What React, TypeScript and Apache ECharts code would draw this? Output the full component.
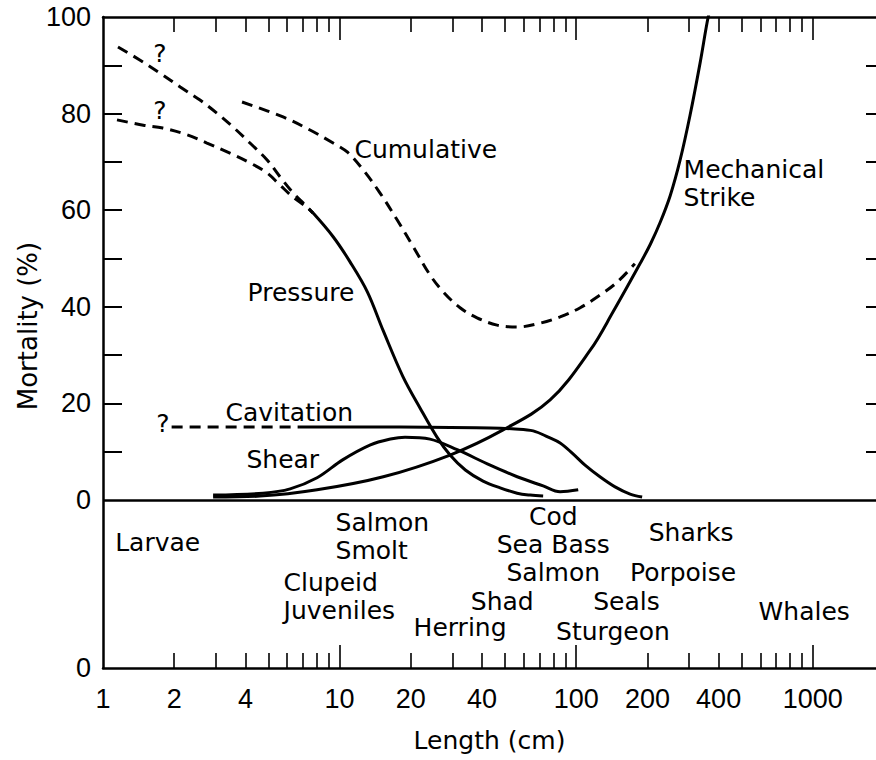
import { useEffect, useRef } from 'react';
import * as echarts from 'echarts';

// ---- axis extents / ticks ----
const X_MIN = 1;
const X_MAX = 1850;
const Y_MIN = -34.8;
const Y_MAX = 100;
const X_LABELS = [1, 2, 4, 10, 20, 40, 100, 200, 400, 1000];
const X_MINOR_TICKS = [2, 3, 4, 5, 6, 7, 8, 9, 20, 30, 40, 50, 60, 70, 80, 90, 200, 300, 400, 500, 600, 700, 800, 900];
const X_MAJOR_TICKS = [10, 100, 1000];
const Y_LABELS = [Y_MIN, 0, 20, 40, 60, 80, 100];
const Y_TICKS = [10, 20, 30, 40, 50, 60, 70, 80, 90];

// ---- curves: length (cm) / mortality (%) ----
const MECH_LEN = [2.92, 4.61, 8.03, 15.3, 29.3, 49.1, 77.6, 115, 143, 187, 206, 227, 250, 275, 303, 334, 358, 369];
const MECH_MORT = [0.6, 0.8, 2.1, 4.8, 9.3, 14.5, 20.7, 31.1, 38.9, 49.1, 53.0, 57.6, 63.1, 70.4, 79.7, 90.5, 99.0, 101.9];

const PRESS_LEN = [7.73, 9.39, 11.07, 13.1, 15.3, 18.5, 21.9, 25.8, 29.3, 34.0, 40.4, 47.7, 56.3, 63.9, 72.5];
const PRESS_MORT = [59.4, 54.5, 49.3, 43.1, 35.0, 25.6, 19.0, 13.0, 9.3, 6.2, 3.9, 2.5, 1.4, 1.0, 0.8];

const UPPER_DASH_LEN = [1.157, 1.43, 1.74, 2.12, 2.57, 3.03, 3.55, 4.18, 4.94, 5.6, 6.36, 7.14, 7.73];
const UPPER_DASH_MORT = [93.8, 91.1, 88.4, 85.5, 82.8, 80.1, 77.2, 73.9, 70.4, 66.9, 63.6, 61.1, 59.4];

const LOWER_DASH_LEN = [1.146, 1.48, 1.79, 2.27, 2.75, 3.44, 4.18, 4.94, 5.6, 6.36, 7.14, 7.73];
const LOWER_DASH_MORT = [78.7, 77.6, 77.0, 75.6, 73.9, 71.8, 69.8, 67.7, 65.2, 62.7, 60.9, 59.4];

const CUM_LEN = [3.87, 5.77, 7.5, 9.39, 10.8, 12.6, 14.8, 17.5, 20.5, 24.1, 27.4, 32.3, 38.1, 46.3, 56.3, 70.4, 85.5, 104, 126, 149, 177];
const CUM_MORT = [82.4, 79.3, 76.6, 73.9, 72.0, 68.3, 63.6, 58.0, 52.4, 46.6, 43.1, 39.8, 37.7, 36.2, 35.8, 36.6, 37.9, 39.8, 42.4, 45.1, 48.9];

const CAV_DASH_LEN = [1.95, 6.8];
const CAV_DASH_MORT = [15.1, 15.1];
const CAV_LEN = [6.8, 18, 43.3, 55.2, 65.8, 76.2, 85.5, 96.2, 109, 126, 146, 169, 190];
const CAV_MORT = [15.1, 15.1, 14.9, 14.7, 14.3, 13.0, 11.8, 9.7, 7.2, 4.8, 2.7, 1.2, 0.6];

const SHEAR_LEN = [2.92, 4.75, 6.18, 8.03, 10.3, 13.5, 16.4, 18.9, 24.1, 31.4, 43.3, 56.3, 72.5, 85.5, 102];
const SHEAR_MORT = [1.0, 1.4, 2.3, 4.6, 8.3, 11.4, 12.6, 13.0, 12.6, 10.4, 7.2, 4.8, 2.9, 1.7, 2.1];

// ---- annotations ----
const NOTE_TEXT = ['?', '?', '?', 'Cumulative', 'Pressure', 'Mechanical\nStrike', 'Cavitation', 'Shear', 'Larvae',
  'Salmon\nSmolt', 'Clupeid\nJuveniles', 'Cod\nSea Bass\nSalmon', 'Shad', 'Herring', 'Seals', 'Sturgeon', 'Sharks', 'Porpoise', 'Whales'];
const NOTE_LEN = [1.74, 1.74, 1.79, 11.5, 11.6, 283, 3.28, 4.02, 1.12, 9.57, 5.77, 80, 48.7, 32.3, 163, 143, 306, 283, 920];
const NOTE_MORT = [92.5, 80.7, 15.9, 72.5, 42.9, 65.6, 18.2, 8.3, -8.9, -7.5, -19.9, -9.3, -21.1, -26.5, -21.1, -27.3, -6.8, -15.1, -23.2];
const NOTE_ANCHOR = ['center', 'center', 'center', 'left', 'right', 'left', 'left', 'left', 'left',
  'left', 'left', 'center', 'center', 'center', 'center', 'center', 'center', 'center', 'center'];

const FONT = 'DejaVu Sans';
const NUM_FONT = 'Liberation Sans';
const INK = '#000';

const zip = (xs: number[], ys: number[]) => xs.map((x, i) => [x, ys[i]]);

function lineSeries(name: string, xs: number[], ys: number[], dashed: boolean, extra: any = {}) {
  return {
    name,
    type: 'line',
    data: zip(xs, ys),
    xAxisIndex: 0,
    yAxisIndex: 0,
    smooth: 0.35,
    showSymbol: false,
    symbol: 'none',
    silent: true,
    clip: true,
    lineStyle: { color: INK, width: 3, type: dashed ? [11, 7] : 'solid', cap: 'butt' },
    ...extra,
  };
}

function xAxisDef(position: 'top' | 'bottom', ticks: number[], len: number, main: boolean) {
  return {
    type: 'log',
    logBase: 10,
    min: X_MIN,
    max: X_MAX,
    position,
    gridIndex: 0,
    axisLine: { show: main, onZero: false, lineStyle: { color: INK, width: 2.5 } },
    axisTick: { show: true, inside: true, length: len, customValues: ticks, lineStyle: { color: INK, width: 1.6 } },
    axisLabel: position === 'bottom' && main
      ? { show: true, customValues: X_LABELS, color: INK, fontSize: 27, fontFamily: NUM_FONT, margin: 17, formatter: (v: number) => String(Math.round(v)) }
      : { show: false },
    splitLine: { show: false },
    minorTick: { show: false },
    ...(position === 'bottom' && main
      ? { name: 'Length (cm)', nameLocation: 'middle', nameGap: 60, nameTextStyle: { color: INK, fontSize: 25, fontFamily: FONT } }
      : {}),
  };
}

export default function App() {
  const ref = useRef<HTMLDivElement>(null);
  useEffect(() => {
    document.body.style.margin = '0';
    const chart = echarts.init(ref.current!, null, { renderer: 'svg' });
    const notes = NOTE_TEXT.map((t, i) => {
      const a = NOTE_ANCHOR[i];
      return {
        value: [NOTE_LEN[i], NOTE_MORT[i]],
        label: {
          show: true,
          formatter: t,
          position: a === 'left' ? 'right' : a === 'right' ? 'left' : 'inside',
          distance: 0,
          align: a === 'left' ? 'left' : a === 'right' ? 'right' : 'center',
          verticalAlign: 'middle',
          color: INK,
          opacity: 1,
          fontSize: 25,
          fontFamily: FONT,
          lineHeight: 28,
          textBorderWidth: 0,
        },
      };
    });
    const option: any = {
      animation: false,
      backgroundColor: '#fff',
      textStyle: { fontFamily: FONT },
      grid: { left: 103, right: 0, top: 17, bottom: 92, containLabel: false },
      xAxis: [
        xAxisDef('bottom', X_MINOR_TICKS, 15, true),
        xAxisDef('bottom', X_MAJOR_TICKS, 23, false),
        xAxisDef('top', X_MINOR_TICKS, 15, true),
        xAxisDef('top', X_MAJOR_TICKS, 23, false),
      ],
      yAxis: [
        {
          type: 'value', min: Y_MIN, max: Y_MAX, position: 'left',
          axisLine: { show: true, onZero: false, lineStyle: { color: INK, width: 2.5 } },
          axisTick: { show: true, inside: true, length: 19, customValues: Y_TICKS, lineStyle: { color: INK, width: 2 } },
          axisLabel: { show: true, customValues: Y_LABELS, color: INK, fontSize: 27, fontFamily: NUM_FONT, margin: 12,
            formatter: (v: number) => (v < 0 ? '0' : String(Math.round(v))) },
          splitLine: { show: false },
        },
        {
          type: 'value', min: Y_MIN, max: Y_MAX, position: 'right',
          axisLine: { show: false, onZero: false },
          axisTick: { show: true, inside: true, length: 10, customValues: Y_TICKS, lineStyle: { color: INK, width: 2 } },
          axisLabel: { show: false },
          splitLine: { show: false },
        },
      ],
      graphic: [
        {
          type: 'text', x: 28, y: 326, rotation: Math.PI / 2,
          style: { text: 'Mortality (%)', fill: INK, fontSize: 26, fontFamily: FONT, align: 'center', verticalAlign: 'middle' },
        },
      ],
      series: [
        lineSeries('Mechanical Strike', MECH_LEN, MECH_MORT, false, {
          markLine: {
            silent: true, symbol: 'none', label: { show: false },
            lineStyle: { color: INK, width: 2.5, type: 'solid' },
            data: [{ yAxis: 0 }],
          },
        }),
        lineSeries('Pressure', PRESS_LEN, PRESS_MORT, false),
        lineSeries('Pressure (upper, uncertain)', UPPER_DASH_LEN, UPPER_DASH_MORT, true),
        lineSeries('Pressure (lower, uncertain)', LOWER_DASH_LEN, LOWER_DASH_MORT, true),
        lineSeries('Cumulative', CUM_LEN, CUM_MORT, true),
        lineSeries('Cavitation (uncertain)', CAV_DASH_LEN, CAV_DASH_MORT, true, { smooth: false }),
        lineSeries('Cavitation', CAV_LEN, CAV_MORT, false),
        lineSeries('Shear', SHEAR_LEN, SHEAR_MORT, false),
        {
          name: 'labels', type: 'scatter', xAxisIndex: 0, yAxisIndex: 0, silent: true,
          symbolSize: 1, itemStyle: { color: 'rgba(0,0,0,0)' },
          label: { color: INK, opacity: 1 },
          data: notes,
          z: 5,
        },
      ],
    };
    chart.setOption(option);
    return () => chart.dispose();
  }, []);
  return <div ref={ref} style={{ position: 'absolute', left: 0, top: 0, width: 876, height: 760, background: '#fff' }} />;
}
